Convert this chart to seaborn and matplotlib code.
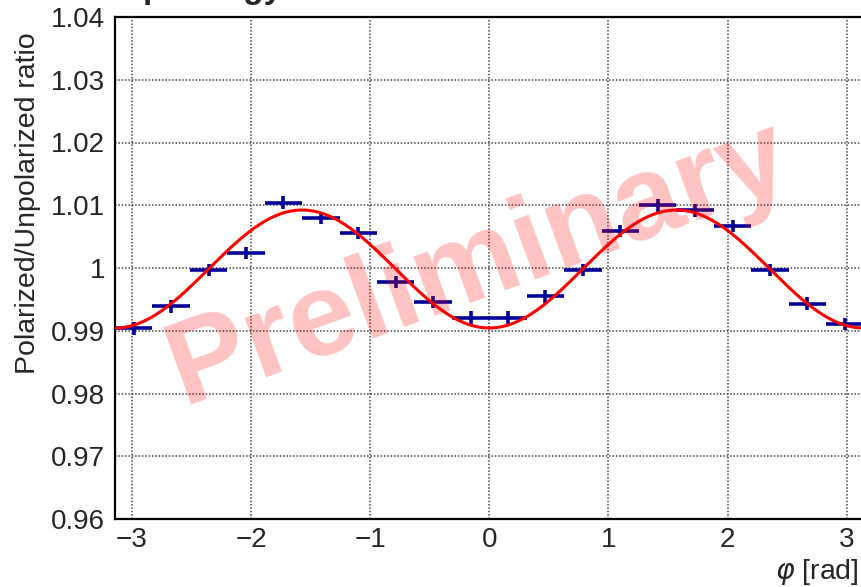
import numpy as np
import pandas as pd
import matplotlib
matplotlib.use("Agg")
import matplotlib.pyplot as plt
import seaborn as sns
from matplotlib.ticker import MultipleLocator, FuncFormatter

# ---- data ----
n_bins = 20
phi_edges = np.linspace(-np.pi, np.pi, n_bins + 1)
phi_centers = 0.5 * (phi_edges[:-1] + phi_edges[1:])
ratio = [0.9904, 0.9939, 0.9997, 1.0024, 1.0104, 1.0080, 1.0056, 0.9978, 0.9946, 0.9921,
         0.9921, 0.9955, 0.9997, 1.0059, 1.0100, 1.0092, 1.0067, 0.9997, 0.9943, 0.9911]
ratio_err = [0.0010] * n_bins
# fit: p0 - p1*cos(2 phi)
fit_p0 = 0.99984
fit_p1 = 0.0094

x_ticks = [-3, -2, -1, 0, 1, 2, 3]
y_ticks = [0.96, 0.97, 0.98, 0.99, 1.0, 1.01, 1.02, 1.03, 1.04]

df = pd.DataFrame({"phi": phi_centers, "ratio": ratio, "err": ratio_err})
phi_fine = np.linspace(-np.pi, np.pi, 400)
fit_df = pd.DataFrame({"phi": phi_fine, "fit": fit_p0 - fit_p1 * np.cos(2 * phi_fine)})

sns.set_style("white")
plt.rcParams["font.family"] = ["Liberation Sans", "DejaVu Sans"]
plt.rcParams["mathtext.fontset"] = "dejavusans"

W, H = 861, 587
fig = plt.figure(figsize=(W / 100, H / 100), dpi=100)
ax = fig.add_axes([115 / W, 1 - 519 / H, 748.5 / W, 502 / H])

ax.set_xlim(-np.pi, np.pi)
ax.set_ylim(0.96, 1.04)

# grid
ax.set_xticks(x_ticks)
ax.set_yticks(y_ticks)
ax.grid(True, which="major", color="#444444", linestyle=(0, (1, 1.2)), linewidth=1.1, zorder=0)
ax.set_axisbelow(True)

# data with bin-width horizontal bars
ax.errorbar(df["phi"], df["ratio"], xerr=(phi_edges[1] - phi_edges[0]) / 2, yerr=df["err"],
            fmt="none", ecolor="#000099", elinewidth=2.6, capsize=0, zorder=3)

# fit curve
sns.lineplot(data=fit_df, x="phi", y="fit", ax=ax, color="#ff0000", linewidth=2.2, zorder=4)

# watermark
ax.text(0.0, 0.996, "Preliminary", fontsize=86, fontweight="bold", color="#ff0000", alpha=0.24,
        rotation=20, rotation_mode="anchor", ha="center", va="baseline", zorder=5)

# ticks
ax.xaxis.set_minor_locator(MultipleLocator(0.2))
ax.yaxis.set_minor_locator(MultipleLocator(0.002))
ax.tick_params(axis="both", which="major", direction="in", top=False, right=False,
               labelsize=20, width=1.3, color="black")
ax.tick_params(axis="x", which="major", length=11, pad=6)
ax.tick_params(axis="y", which="major", length=12, pad=7)
ax.tick_params(axis="x", which="minor", direction="in", length=5.5, width=1.1, top=False)
ax.tick_params(axis="y", which="minor", direction="in", length=6, width=1.1, right=False)
ax.xaxis.set_major_formatter(FuncFormatter(lambda v, p: f"{v:g}".replace("-", "\u2212")))
ax.yaxis.set_major_formatter(FuncFormatter(lambda v, p: f"{round(v, 4):g}"))

for s in ax.spines.values():
    s.set_linewidth(1.6)
    s.set_color("black")

ax.set_xlabel("")
ax.set_ylabel("")
fig.text(28 / W, 1 - 32 / H, "Polarized/Unpolarized ratio", rotation=90, ha="center", va="top",
         fontsize=20.5)
fig.text(859 / W, 1 - 572 / H, r"$\varphi$ [rad]", ha="right", va="center", fontsize=20.5)
fig.text(143 / W, 1 + 2 / H, "p energy", ha="left", va="baseline", fontsize=24, fontweight="bold")

fig.savefig("out.png", dpi=100)
